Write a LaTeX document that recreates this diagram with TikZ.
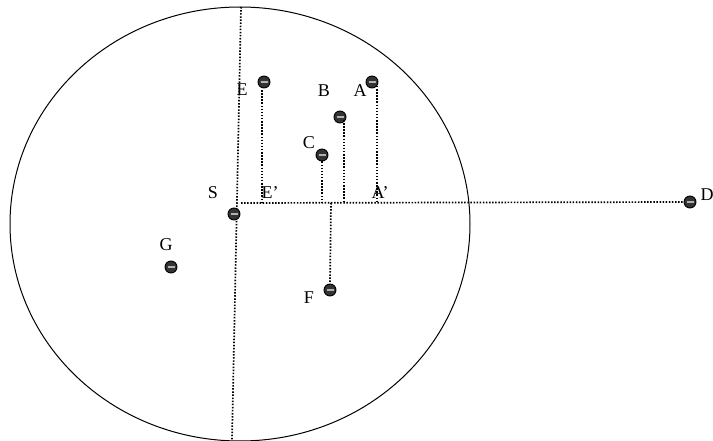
\documentclass[tikz,border=0pt]{standalone}
\usepackage{fontspec}
\usetikzlibrary{shapes.geometric}
\setmainfont{Liberation Serif}
\begin{document}
\begin{tikzpicture}[x=1pt,y=-1pt,
  dotline/.style={line width=1.7pt,dash pattern=on 1.5pt off 1.6pt,black},
  pt/.style={circle,draw=black,fill=black!80,line width=0.9pt,minimum size=12pt,inner sep=0pt,
    path picture={\draw[gray!60,line width=1.3pt] ([xshift=-3.5pt]path picture bounding box.center) -- ([xshift=3.5pt]path picture bounding box.center);}},
  lab/.style={font=\fontsize{18}{18}\selectfont,inner sep=0pt}]
\useasboundingbox (0,0) rectangle (713,441);
\fill[white] (0,0) rectangle (713,441);
\node[draw,ellipse,minimum width=460pt,minimum height=434pt,line width=1pt,inner sep=0pt] (circ) at (240,224) {};
\coordinate (top) at (241,7);
\coordinate (bot) at (232,440);
\coordinate (hl) at (241,203);
\coordinate (eb) at (262,203);
\coordinate (cb) at (322,203);
\coordinate (bb) at (344,203);
\coordinate (ab) at (377,203);
\coordinate (ft) at (331,203);
% lines
\draw[dotline] (top) -- (bot);
\node[pt] (D) at (690,202) {};
\draw[dotline] (hl) -- (D.west);
\node[pt] (S) at (234,214) {};
\node[pt] (E) at (264,82) {};
\node[pt] (B) at (340,117) {};
\node[pt] (A) at (372,82) {};
\node[pt] (C) at (322,155) {};
\node[pt] (F) at (330,290) {};
\node[pt] (G) at (171,267) {};
\draw[dotline] (262,87) -- (eb);
\draw[dotline] (344,120) -- (bb);
\draw[dotline] (377,86) -- (ab);
\draw[dotline] (C.south) -- (cb);
\draw[dotline] (ft) -- (F.north);
% labels
\node[lab] (lE) at (242,90) {E};
\node[lab] (lB) at (324,91) {B};
\node[lab] (lA) at (360,91) {A};
\node[lab] (lC) at (309,143) {C};
\node[lab] (lS) at (213,193) {S};
\node[lab] (lEp) at (270,193) {E’};
\node[lab] (lAp) at (380,193) {A’};
\node[lab] (lD) at (707,195) {D};
\node[lab] (lG) at (166,245) {G};
\node[lab] (lF) at (309,298) {F};
\end{tikzpicture}
\end{document}
